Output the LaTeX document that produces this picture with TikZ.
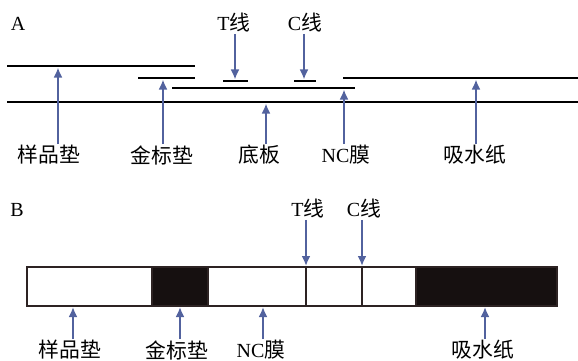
\documentclass[tikz,border=0pt]{standalone}
\usepackage{fontspec}
\setmainfont{Liberation Serif}
\newfontfamily\cjk{Noto Sans CJK SC}[Scale=1.04]
\usetikzlibrary{arrows.meta}
\definecolor{arrowblue}{RGB}{82,98,158}
\definecolor{stripedge}{RGB}{45,35,35}
\definecolor{padblack}{RGB}{22,16,16}

\begin{document}
\begin{tikzpicture}[x=1pt,y=-1pt,
    layer/.style={line width=2.3pt},
    pointer/.style={draw=arrowblue,line width=2.1pt,-{Latex[length=10pt,width=9pt]}},
    lbl/.style={font=\fontsize{20}{22}\selectfont,inner sep=1pt},
    strip/.style={draw=stripedge,line width=1.3pt}]
      \useasboundingbox (0,0) rectangle (578,361);

      % A: side view
      \node[lbl] (A) at (18,24) {A};
      \draw[layer] (7,66)    -- (195,66);
      \draw[layer] (138,78)  -- (195,78);
      \draw[layer] (172,88)  -- (355,88);
      \draw[layer] (223,81)  -- (248,81);
      \draw[layer] (294,81)  -- (316,81);
      \draw[layer] (343,78)  -- (578,78);
      \draw[layer] (7,102)   -- (578,102);

      \coordinate (sampleA) at (58,67.5);
      \coordinate (goldA)   at (163,79.5);
      \coordinate (baseA)   at (266,103.5);
      \coordinate (ncA)     at (344,89.5);
      \coordinate (absA)    at (476,79.5);
      \coordinate (tA)      at (235,79.5);
      \coordinate (cA)      at (304,79.5);

      \node[lbl] (sampleAl) at (49,155)  {\cjk 样品垫};
      \node[lbl] (goldAl)   at (162,155) {\cjk 金标垫};
      \node[lbl] (baseAl)   at (259,155) {\cjk 底板};
      \node[lbl] (ncAl)     at (346,155) {NC{\cjk 膜}};
      \node[lbl] (absAl)    at (475,155) {\cjk 吸水纸};
      \node[lbl] (tAl)      at (234,23)  {T{\cjk 线}};
      \node[lbl] (cAl)      at (305,23)  {C{\cjk 线}};

      \draw[pointer] (sampleAl.north -| sampleA) -- (sampleA);
      \draw[pointer] (goldAl.north -| goldA)     -- (goldA);
      \draw[pointer] (baseAl.north -| baseA)     -- (baseA);
      \draw[pointer] (ncAl.north -| ncA)         -- (ncA);
      \draw[pointer] (absAl.north -| absA)       -- (absA);
      \draw[pointer] (tAl.south -| tA)           -- (tA);
      \draw[pointer] (cAl.south -| cA)           -- (cA);

      % B: top view
      \node[lbl] (B) at (17,210) {B};
      \fill[padblack] (152,267) rectangle (208,306);
      \fill[padblack] (416,267) rectangle (557,306);
      \draw[strip] (27,267) rectangle (557,306);
      \draw[strip] (152,267) -- (152,306);
      \draw[strip] (208,267) -- (208,306);
      \draw[strip] (306,267) -- (306,306);
      \draw[strip] (362,267) -- (362,306);
      \draw[strip] (416,267) -- (416,306);

      \coordinate (sampleB) at (73,307);
      \coordinate (goldB)   at (180,307);
      \coordinate (ncB)     at (263,307);
      \coordinate (absB)    at (485,307);
      \coordinate (tB)      at (306,266);
      \coordinate (cB)      at (362,266);

      \node[lbl] (sampleBl) at (70,350)  {\cjk 样品垫};
      \node[lbl] (goldBl)   at (177,350) {\cjk 金标垫};
      \node[lbl] (ncBl)     at (261,350) {NC{\cjk 膜}};
      \node[lbl] (absBl)    at (483,350) {\cjk 吸水纸};
      \node[lbl] (tBl)      at (308,209) {T{\cjk 线}};
      \node[lbl] (cBl)      at (364,209) {C{\cjk 线}};

      \draw[pointer] (sampleBl.north -| sampleB) -- (sampleB);
      \draw[pointer] (goldBl.north -| goldB)     -- (goldB);
      \draw[pointer] (ncBl.north -| ncB)         -- (ncB);
      \draw[pointer] (absBl.north -| absB)       -- (absB);
      \draw[pointer] (tBl.south -| tB)           -- (tB);
      \draw[pointer] (cBl.south -| cB)           -- (cB);
\end{tikzpicture}
\end{document}
